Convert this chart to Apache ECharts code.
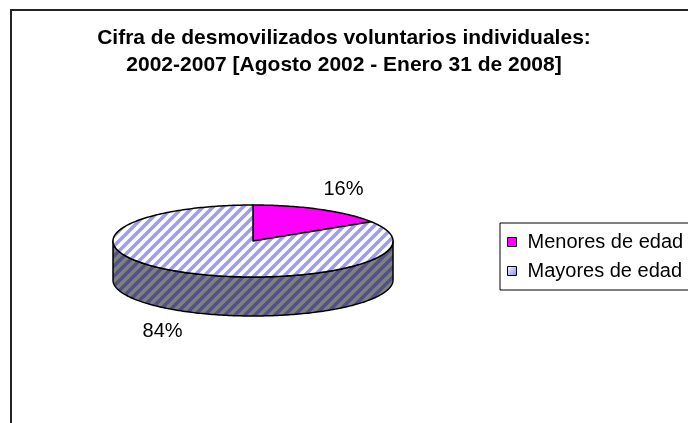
<!DOCTYPE html>
<html><head><meta charset="utf-8">
<script src="https://cdn.jsdelivr.net/npm/echarts@6/dist/echarts.min.js"></script>
<style>html,body{margin:0;padding:0;background:#fff}#c{width:688px;height:423px}</style>
</head><body><div id="c"></div>
<script>
const titleLines = ['Cifra de desmovilizados voluntarios individuales:', '2002-2007 [Agosto 2002 - Enero 31 de 2008]'];
const categories = ['Menores de edad', 'Mayores de edad'];
const values = [16, 84];
const pctLabels = ['16%', '84%'];

const FONT = '"Liberation Sans", Arial, sans-serif';

function stripes(bg, fg, period, width) {
  const c = document.createElement('canvas'); c.width = period; c.height = period;
  const g = c.getContext('2d'); g.fillStyle = bg; g.fillRect(0, 0, period, period);
  g.strokeStyle = fg; g.lineWidth = width;
  for (const k of [0, period, 2 * period]) {
    g.beginPath(); g.moveTo(k + 1, -1); g.lineTo(k - period - 1, period + 1); g.stroke();
  }
  return {image: c, repeat: 'repeat'};
}
const topFill = ['#ff00ff', stripes('#ffffff', '#9c9cf6', 10, 3.5)];
const sideFill = ['#800080', stripes('#808080', '#50508c', 10, 3.5)];

const G = {cx: 253, cy: 241, rx: 140, ry: 36, depth: 39};
function pt(a, dy) { const r = a * Math.PI / 180; return [G.cx + G.rx * Math.cos(r), G.cy - G.ry * Math.sin(r) + (dy || 0)]; }
function arc(a0, a1, dy) {
  const pts = []; const n = Math.max(2, Math.ceil(Math.abs(a0 - a1)));
  for (let i = 0; i <= n; i++) pts.push(pt(a0 + (a1 - a0) * i / n, dy));
  return pts;
}
function renderSlice(i) {
  return function (params, api) {
    const total = values.reduce((s, v) => s + v, 0);
    let before = 0; for (let j = 0; j < i; j++) before += values[j];
    const v = api.value(0);
    const a0 = 90 - 360 * before / total, a1 = a0 - 360 * v / total;
    const children = [];
    for (const k of [-1, 0, 1]) {
      const lo = 360 * k - 180, hi = 360 * k;
      const s = Math.min(a0, hi), e = Math.max(a1, lo);
      if (s > e) {
        const top = arc(s, e, 0), bot = arc(e, s, G.depth);
        children.push({type: 'polygon', shape: {points: top.concat(bot)},
          style: {fill: sideFill[i], stroke: '#000', lineWidth: 1.5, lineJoin: 'round'}});
      }
    }
    children.push({type: 'polygon', shape: {points: [[G.cx, G.cy]].concat(arc(a0, a1, 0))},
      style: {fill: topFill[i], stroke: '#000', lineWidth: 1.5, lineJoin: 'round'}});
    const m = (a0 + a1) / 2, r = m * Math.PI / 180;
    const c = Math.cos(r), s = Math.sin(r);
    const p = pt(m, s < 0 ? G.depth : 0);
    children.push({type: 'text', x: p[0] + Math.sign(c) * 23, y: p[1] - Math.sign(s) * 20,
      style: {text: pctLabels[i], fill: '#000', font: '20px ' + FONT, align: 'center', verticalAlign: 'middle'}});
    return {type: 'group', children};
  };
}

const chart = echarts.init(document.getElementById('c'), null, {renderer: 'canvas'});
chart.setOption({
  animation: false,
  backgroundColor: '#fff',
  title: {
    text: titleLines.join('\n'), left: 'center', top: 25, padding: 0,
    textStyle: {fontFamily: FONT, fontSize: 21, fontWeight: 'bold', color: '#000', lineHeight: 27}
  },
  legend: {
    orient: 'vertical', left: 500, top: 223, padding: [9, 90, 9, 7], itemGap: 9,
    itemWidth: 9, itemHeight: 9, borderColor: '#000', borderWidth: 1, selectedMode: false,
    textStyle: {fontFamily: FONT, fontSize: 20, color: '#000', padding: [0, 0, 0, 6]},
    data: [
      {name: categories[0], icon: 'rect', itemStyle: {color: '#ff00ff', borderColor: '#000', borderWidth: 1}},
      {name: categories[1], icon: 'rect', itemStyle: {color: {type: 'linear', x: 0, y: 0, x2: 1, y2: 1,
        colorStops: [{offset: 0, color: '#ffffff'}, {offset: 1, color: '#8080ff'}]}, borderColor: '#000', borderWidth: 1}}
    ]
  },
  graphic: [{type: 'rect', shape: {x: 11, y: 10, width: 900, height: 700}, silent: true,
    style: {fill: 'none', stroke: '#222', lineWidth: 2}}],
  series: categories.map((name, i) => ({
    type: 'custom', name, coordinateSystem: 'none', silent: true,
    itemStyle: {color: i === 0 ? '#ff00ff' : '#9c9cf6'},
    data: [[values[i]]],
    renderItem: renderSlice(i)
  }))
});
</script></body></html>
